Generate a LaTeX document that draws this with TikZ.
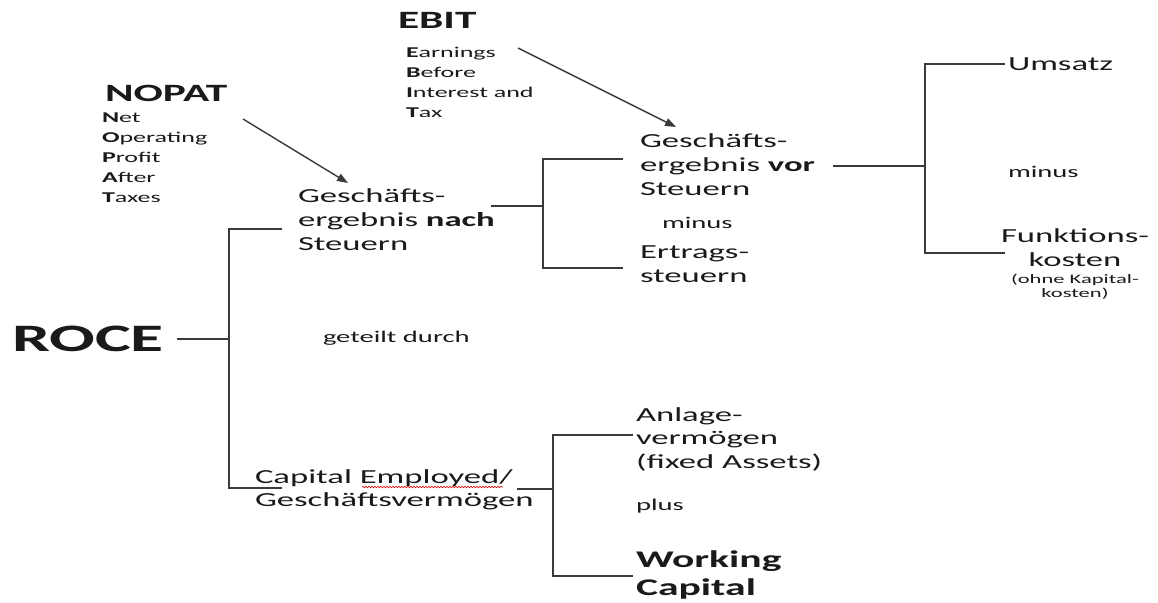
\documentclass[tikz,border=0pt]{standalone}
\usepackage{fontspec}
\setmainfont{Carlito}[FakeStretch=1.74]
\usetikzlibrary{arrows.meta,decorations.pathmorphing}
\definecolor{ink}{HTML}{1A1A1A}
\definecolor{linec}{HTML}{3A3A3A}
\newcommand{\blkl}[3]{{\fontsize{#1}{#2}\selectfont\begin{tabular}[t]{@{}l@{}}#3\end{tabular}}}
\newcommand{\blkc}[3]{{\fontsize{#1}{#2}\selectfont\begin{tabular}[t]{@{}c@{}}#3\end{tabular}}}
\begin{document}
\begin{tikzpicture}[x=1bp,y=-1bp,
  txt/.style={inner sep=0pt, outer sep=0pt, anchor=base west, text=ink},
  txtc/.style={inner sep=0pt, outer sep=0pt, anchor=base, text=ink},
  small/.style={txt, font=\fontsize{16.5}{19}\selectfont},
  conn/.style={draw=linec, line width=1.4bp},
  arr/.style={draw=linec, line width=1.4bp, -{Triangle[length=11bp,width=8bp]}},
  squig/.style={draw=red!85!black, line width=0.6bp, decorate,
    decoration={snake, amplitude=0.8bp, segment length=3bp}}]
\useasboundingbox (0,0) rectangle (1158,603);

% ---- texts ----
\node[txt] (ebit) at (398,29) {\fontsize{25}{30}\selectfont\bfseries EBIT};
\node[txt] (ebitx) at (406,58) {\blkl{15}{20}{\textbf{E}arnings\\ \textbf{B}efore\\ \textbf{I}nterest and\\ \textbf{T}ax}};
\node[txt] (nopat) at (105,102) {\fontsize{25}{30}\selectfont\bfseries NOPAT};
\node[txt] (nopatx) at (102,123) {\blkl{15}{20}{\textbf{N}et\\ \textbf{O}perating\\ \textbf{P}rofit\\ \textbf{A}fter\\ \textbf{T}axes}};
\node[txt] (nach) at (298,203) {\blkl{20}{24}{Geschäfts-\\ ergebnis \textbf{nach}\\ Steuern}};
\node[txt] (vor) at (640,148) {\blkl{20}{24}{Geschäfts-\\ ergebnis \textbf{vor}\\ Steuern}};
\node[small] (minusA) at (662,229) {minus};
\node[txt] (steuer) at (640,259) {\blkl{20}{24}{Ertrags-\\ steuern}};
\node[txt] (umsatz) at (1008,71) {\fontsize{20}{24}\selectfont Umsatz};
\node[small] (minusB) at (1008,178) {minus};
\node[txtc] (funk) at (1075,243) {\blkc{20}{24}{Funktions-\\ kosten}};
\node[txtc] (funknote) at (1075,284) {\blkc{13}{14}{(ohne Kapital-\\ kosten)}};
\node[txt] (roce) at (12,351) {\fontsize{39}{46}\selectfont\bfseries ROCE};
\node[small] (geteilt) at (323,343) {geteilt durch};
\node[txt] (capital) at (255,483) {\blkl{20}{24}{Capital Employed/\\ Geschäftsvermögen}};
\node[txt] (anlage) at (636,421) {\blkl{20}{24}{Anlage-\\ vermögen\\ (fixed Assets)}};
\node[small] (plus) at (636,510) {plus};
\node[txt] (working) at (636,567) {\blkl{24}{29}{\bfseries Working\\ \bfseries Capital}};

% spell-check underline
\coordinate (sq1) at (362,487);
\coordinate (sq2) at (503,487);
\draw[squig] (sq1) -- (sq2);

% ---- bracket 1 (ROCE) ----
\coordinate (r0) at (177,339);
\coordinate (k1m) at (229,339);
\coordinate (k1t) at (229,229);
\coordinate (k1b) at (229,488);
\coordinate (k1te) at (282,229);
\coordinate (k1be) at (282,488);
\draw[conn] (r0) -- (k1m);
\draw[conn] (k1te) -- (k1t) -- (k1b) -- (k1be);

% ---- bracket 2 (nach Steuern) ----
\coordinate (n0) at (491,206);
\coordinate (k2m) at (543,206);
\coordinate (k2t) at (543,159);
\coordinate (k2b) at (543,268);
\coordinate (k2te) at (623,159);
\coordinate (k2be) at (623,268);
\draw[conn] (n0) -- (k2m);
\draw[conn] (k2te) -- (k2t) -- (k2b) -- (k2be);

% ---- bracket 3 (vor Steuern) ----
\coordinate (v0) at (833,166);
\coordinate (k3m) at (925,166);
\coordinate (k3t) at (925,64);
\coordinate (k3b) at (925,253);
\coordinate (k3te) at (1005,64);
\coordinate (k3be) at (1005,253);
\draw[conn] (v0) -- (k3m);
\draw[conn] (k3te) -- (k3t) -- (k3b) -- (k3be);

% ---- bracket 4 (Capital Employed) ----
\coordinate (c0) at (517,489);
\coordinate (k4m) at (553,489);
\coordinate (k4t) at (553,435);
\coordinate (k4b) at (553,576);
\coordinate (k4te) at (633,435);
\coordinate (k4be) at (633,576);
\draw[conn] (c0) -- (k4m);
\draw[conn] (k4te) -- (k4t) -- (k4b) -- (k4be);

% ---- arrows ----
\coordinate (a1s) at (243,119);
\coordinate (a1e) at (348,183);
\draw[arr] (a1s) -- (a1e);
\coordinate (a2s) at (518,48);
\coordinate (a2e) at (676,127);
\draw[arr] (a2s) -- (a2e);
\end{tikzpicture}
\end{document}
